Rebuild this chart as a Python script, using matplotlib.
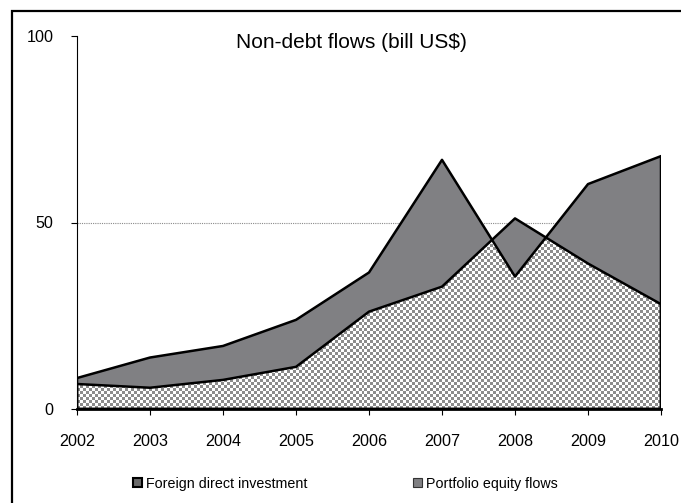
import numpy as np
import matplotlib
matplotlib.use('Agg')
import matplotlib.pyplot as plt
from matplotlib.patches import Patch, Rectangle

plt.rcParams['font.family'] = ['Liberation Sans', 'DejaVu Sans']

# Données (milliards US$)
annees = [2002, 2003, 2004, 2005, 2006, 2007, 2008, 2009, 2010]
ide = [6.7, 5.7, 7.8, 11.3, 26.1, 32.8, 51.1, 39.0, 28.1]
portefeuille = [8.3, 13.8, 16.9, 23.9, 36.6, 66.8, 35.5, 60.3, 67.8]
titre = 'Non-debt flows (bill US$)'
noms_series = ['Foreign direct investment', 'Portfolio equity flows']

gris = '#808083'
x = np.array(annees)
y_ide = np.array(ide)
y_pef = np.array(portefeuille)

W, H = 681, 503
fig = plt.figure(figsize=(W / 100, H / 100), dpi=100)
ax = fig.add_axes([77 / W, 1 - 409 / H, (661 - 77) / W, (409 - 36) / H])
ax.set_xlim(annees[0], annees[-1])
ax.set_ylim(0, 100)

# ligne de grille à 50
ax.axhline(50, color='#8a8a8a', lw=0.8, ls=(0, (1, 1)), zorder=0.5)

# zone grise (portefeuille)
ax.fill_between(x, 0, y_pef, facecolor=gris, edgecolor='none', zorder=1)

# zone en damier (IDE), cases d'environ 3 px
poly_ide = ax.fill_between(x, 0, y_ide, facecolor='none', edgecolor='none', zorder=1)
nx, ny = 195, 124
damier = (np.add.outer(np.arange(ny), np.arange(nx)) % 2).astype(float)
im = ax.imshow(damier, cmap=matplotlib.colors.ListedColormap(['#8c8c8c', '#ffffff']),
               extent=(annees[0], annees[-1], 0, 100), aspect='auto',
               interpolation='nearest', origin='lower', zorder=2)
im.set_clip_path(poly_ide.get_paths()[0], transform=ax.transData)

# partie grise au-dessus du portefeuille quand IDE > portefeuille
ax.fill_between(x, y_pef, y_ide, where=y_ide > y_pef, interpolate=True,
                facecolor=gris, edgecolor='none', zorder=3)

# contours
ax.fill_between(x, 0, y_pef, facecolor='none', edgecolor='black', lw=1.8, zorder=4)
ax.fill_between(x, 0, y_ide, facecolor='none', edgecolor='black', lw=1.8, zorder=4)

ax.set_yticks([0, 50, 100])
ax.set_xticks(annees)
ax.tick_params(axis='y', direction='out', length=4, width=0.8, pad=13, labelsize=11.6, colors='black')
ax.tick_params(axis='x', direction='out', length=4, width=0.8, pad=14, labelsize=11.6)
for s in ['top', 'right']:
    ax.spines[s].set_visible(False)
ax.spines['left'].set_linewidth(0.8)
ax.spines['bottom'].set_linewidth(2)
ax.spines['bottom'].set_zorder(5)

fig.text(351 / W, 1 - 42 / H, titre, ha='center', va='center', fontsize=15)

# légende
poignees = [Patch(facecolor='#6a6a6a', edgecolor='black', lw=1.5),
            Patch(facecolor=gris, edgecolor='#333333', lw=0.8)]
fig.legend(poignees, noms_series, ncol=2, loc='center left',
           bbox_to_anchor=(133 / W, 1 - 484 / H), frameon=False, fontsize=10.3,
           handlelength=0.6, handleheight=0.6, handletextpad=0.3,
           columnspacing=7.4, borderpad=0, borderaxespad=0)

# cadre extérieur
fig.patches.append(Rectangle((11.5 / W, -0.1), 2, 1.1 - 11.5 / H, transform=fig.transFigure,
                             fill=False, edgecolor='black', lw=1.6))

fig.savefig('out.png', dpi=100)
